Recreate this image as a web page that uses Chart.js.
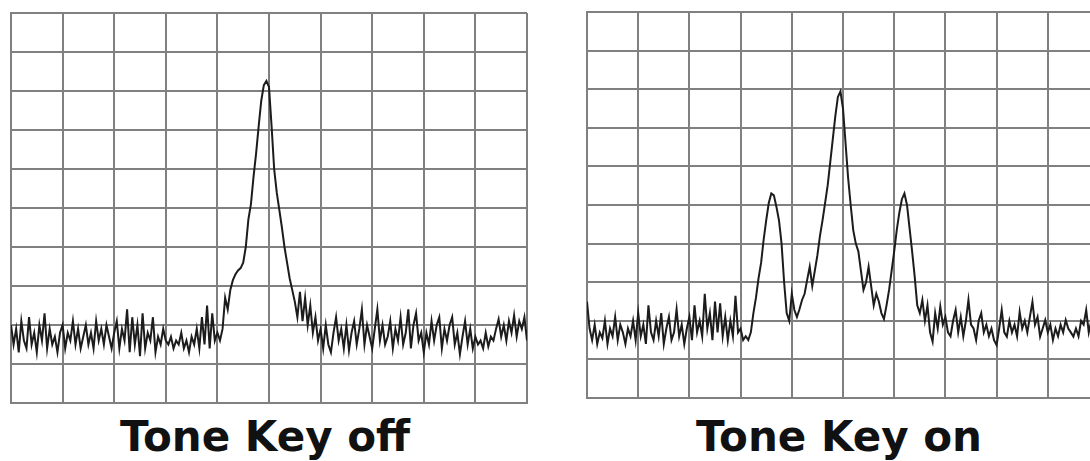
<!DOCTYPE html>
<html>
<head>
<meta charset="utf-8">
<script src="https://cdn.jsdelivr.net/npm/chart.js@4.4.1/dist/chart.umd.min.js"></script>
<style>
  html, body { margin: 0; padding: 0; background: #fff; overflow: hidden; }
  body { width: 1090px; height: 461px; position: relative; }
  .panel { position: absolute; }
  .label {
    position: absolute; width: 500px; text-align: center;
    font-family: 'DejaVu Sans', Verdana, sans-serif; font-weight: bold;
    font-size: 42px; line-height: 1; color: #111;
  }
</style>
</head>
<body>
<div class="panel" style="left:10px; top:12px; width:518px; height:392px;"><canvas id="offChart"></canvas></div>
<div class="panel" style="left:586px; top:11px; width:514px; height:388px;"><canvas id="onChart"></canvas></div>
<div class="label" style="left:15px; top:416px;">Tone Key off</div>
<div class="label" style="left:589px; top:416px;">Tone Key on</div>
<script>
// sweep: 10 divisions across, one sample every half step
var sweepStep = 0.5;
var divisions = [0, 10, 20, 30, 40, 50, 60, 70, 80, 90, 100];

// trace level (screen units, 10 per division) — tone key off
var levelOff = [
  20, 15, 19, 13, 21, 16, 14, 22, 15, 18, 13, 20, 16, 23, 14, 19, 15, 17, 13, 18,
  20, 14, 18, 16, 21, 15, 19, 14, 17, 20, 15, 18, 14, 21, 16, 19, 15, 20, 17, 14,
  18, 21, 14, 19, 16, 24, 13, 22, 15, 20, 12, 23, 14, 18, 16, 22, 13, 17, 15, 19,
  16, 15, 17, 14, 16, 15, 18, 14, 16, 13, 17, 15, 19, 14, 22, 15, 25, 14, 23, 16,
  18, 16, 19, 27, 24, 29, 31.5, 33, 34, 34.6, 36, 40, 47, 51, 58, 64, 71, 77.5, 81.5, 82.6,
  81, 71, 60, 54, 49.5, 45, 40, 36, 32, 29, 26, 22, 28.5, 21, 27, 20, 25, 18, 22, 16,
  19, 14, 20, 15, 13, 18, 22, 16, 19, 14, 20, 13.5, 18, 21, 15, 19, 24, 15, 20, 17,
  14, 19, 24, 16, 20, 15, 17, 21, 14, 19, 16, 22, 15, 18, 24, 14, 20, 23, 16, 18,
  13, 18, 15, 21, 16, 20, 22, 14, 19, 16, 20, 22, 15, 18, 12.5, 17, 21, 15, 19, 14,
  17, 15, 16, 14, 18, 14.5, 17, 16, 19, 21.5, 17, 20, 16, 21, 18, 22.5, 17, 21, 19, 22,
  16
];

// tone key on: carrier plus two side tones
var levelOn = [
  25, 18, 15, 19, 14, 17, 15.5, 20, 14, 18, 16, 21, 15, 19, 17, 14, 18, 16, 20, 15,
  22, 16, 19, 14, 24, 17, 15, 20, 16, 22, 14, 18, 21, 15, 17, 23, 16, 19, 14, 18,
  21, 15, 24, 17, 20, 16, 27, 18, 22, 15, 25, 17, 24.5, 16, 21, 15, 20, 16, 26.5, 17,
  18, 15, 16, 15, 17, 22, 26, 31, 35, 41, 46, 50.5, 53, 52.5, 49.5, 46, 40, 30, 22, 20,
  27, 22.8, 21, 23, 25.4, 27, 30.6, 34, 29, 33, 37, 42, 46, 50.5, 55, 61, 67, 73, 78, 79.4,
  75, 66, 57, 50, 43.5, 40, 38, 33, 28, 30, 34, 29, 24, 27, 25, 22, 20.5, 24, 28, 33,
  38, 43.5, 48, 51.5, 53, 50, 44, 38, 31.5, 24, 22, 25.4, 20, 24, 17, 14.6, 22, 18, 23.7, 19,
  21, 17, 16, 20, 22.8, 17, 21, 16, 20, 25.4, 19, 18, 15, 20, 22, 17, 19, 16, 18, 15,
  13.7, 18, 22.8, 17, 15.9, 20, 17, 19, 16, 22.3, 18, 20, 17, 21, 24.9, 19, 21, 15.9, 18, 20.2,
  17, 19, 15, 18, 16, 19, 17, 20.2, 18, 17, 15.9, 18, 16, 20, 19, 22.8, 17, 20, 16, 19,
  17
];

var gridColor = '#808080';
var traceColor = '#1c1c1c';

function toPoints(levels) {
  return levels.map(function (v, i) { return { x: i * sweepStep, y: v }; });
}

function screen(canvasId, levels) {
  var ctx = document.getElementById(canvasId);
  var axis = {
    type: 'linear', min: 0, max: 100,
    afterBuildTicks: function (s) { s.ticks = divisions.map(function (v) { return { value: v }; }); },
    grid: { color: gridColor, lineWidth: 2, drawTicks: false },
    border: { display: true, color: gridColor, width: 2 },
    ticks: { display: false }
  };
  return new Chart(ctx, {
    type: 'line',
    data: {
      datasets: [{
        data: toPoints(levels),
        borderColor: traceColor,
        borderWidth: 2,
        pointRadius: 0,
        tension: 0,
        fill: false
      }]
    },
    options: {
      responsive: true,
      maintainAspectRatio: false,
      animation: false,
      layout: { padding: 1 },
      scales: { x: axis, y: Object.assign({}, axis) },
      plugins: { legend: { display: false }, tooltip: { enabled: false } }
    }
  });
}

screen('offChart', levelOff);
screen('onChart', levelOn);
</script>
</body>
</html>
